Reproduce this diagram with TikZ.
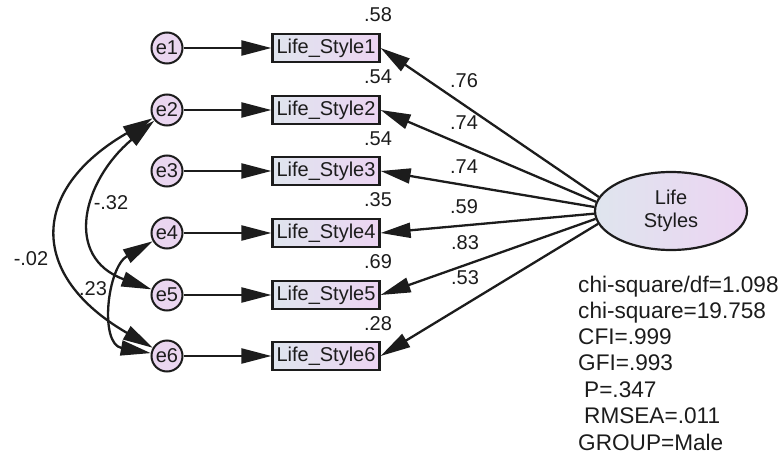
\documentclass[tikz,border=0pt]{standalone}
\usepackage{fontspec}
\setmainfont{Liberation Sans}
\usetikzlibrary{arrows.meta,shapes.geometric}
\definecolor{ink}{HTML}{1C1C1C}
\definecolor{boxL}{HTML}{DFE5EE}
\definecolor{boxR}{HTML}{ECD4F2}
\definecolor{errfill}{HTML}{EAD6F0}
\begin{document}
\begin{tikzpicture}[x=1pt,y=-1pt,
  lbl/.style={font=\fontsize{20}{23}\selectfont, text=ink, inner sep=0},
  stat/.style={font=\fontsize{22.6}{26}\selectfont, text=ink, inner sep=0, anchor=base west},
  obs/.style={draw=ink, line width=2.2pt, left color=boxL, right color=boxR, minimum width=107pt, minimum height=28pt, inner sep=0, font=\fontsize{20}{23}\selectfont, text=ink},
  err/.style={circle, draw=ink, line width=2pt, fill=errfill, minimum size=31pt, inner sep=0, font=\fontsize{20}{23}\selectfont, text=ink},
  lat/.style={ellipse, draw=ink, line width=2.2pt, left color=boxL, right color=boxR, minimum width=152pt, minimum height=78pt, inner sep=0, font=\fontsize{20}{23}\selectfont, text=ink, align=center},
  tip/.tip={Triangle[length=30pt,width=15pt]},
  pth/.style={draw=ink, line width=2.3pt, -tip},
  cov/.style={draw=ink, line width=2.3pt, tip-tip}
]
\useasboundingbox (0,0) rectangle (782,455);
% observed variables
\node[obs] (b1) at (326,48) {Life\_Style1};
\node[obs] (b2) at (326,110) {Life\_Style2};
\node[obs] (b3) at (326,171) {Life\_Style3};
\node[obs] (b4) at (326,233) {Life\_Style4};
\node[obs] (b5) at (326,295) {Life\_Style5};
\node[obs] (b6) at (326,356) {Life\_Style6};
% errors
\node[err] (e1) at (167,48) {e1};
\node[err] (e2) at (167,110) {e2};
\node[err] (e3) at (167,171) {e3};
\node[err] (e4) at (167,233) {e4};
\node[err] (e5) at (167,295) {e5};
\node[err] (e6) at (167,356) {e6};
% latent
\node[lat] (LS) at (671,211) {Life\\Styles};
% error paths
\foreach \i in {1,...,6} \draw[pth] (e\i) -- (b\i);
% loadings
\draw[pth] (LS.169) -- (b1.east);
\draw[pth] (LS.173) -- (b2.east);
\draw[pth] (LS.177) -- (b3.east);
\draw[pth] (LS.182) -- (b4.east);
\draw[pth] (LS.186) -- (b5.east);
\draw[pth] (LS.190) -- (b6.east);
% covariances
\draw[cov] (e2) to[out=210,in=150,looseness=1.6] (e6);
\draw[cov] (e2) to[out=220,in=160,looseness=1.42] (e5);
\draw[cov] (e4) to[out=210,in=170,looseness=1.2] (e6);
% R2 labels
\node[lbl] (r1) at (378,15) {.58};
\node[lbl] (r2) at (378,77) {.54};
\node[lbl] (r3) at (378,139) {.54};
\node[lbl] (r4) at (378,200) {.35};
\node[lbl] (r5) at (378,262) {.69};
\node[lbl] (r6) at (378,324) {.28};
% loading labels
\node[lbl] (l1) at (464,81) {.76};
\node[lbl] (l2) at (464,123) {.74};
\node[lbl] (l3) at (464,167) {.74};
\node[lbl] (l4) at (464,207) {.59};
\node[lbl] (l5) at (465,243) {.83};
\node[lbl] (l6) at (465,278) {.53};
% covariance labels
\node[lbl] (c1) at (111,203) {-.32};
\node[lbl] (c2) at (31,259) {-.02};
\node[lbl] (c3) at (93,289) {.23};
% fit statistics
\node[stat] (s1) at (578,292) {chi-square/df=1.098};
\node[stat] (s2) at (578,318) {chi-square=19.758};
\node[stat] (s3) at (578,344) {CFI=.999};
\node[stat] (s4) at (578,370) {GFI=.993};
\node[stat] (s5) at (584,397) {P=.347};
\node[stat] (s6) at (584,423) {RMSEA=.011};
\node[stat] (s7) at (578,450) {GROUP=Male};
\end{tikzpicture}
\end{document}
